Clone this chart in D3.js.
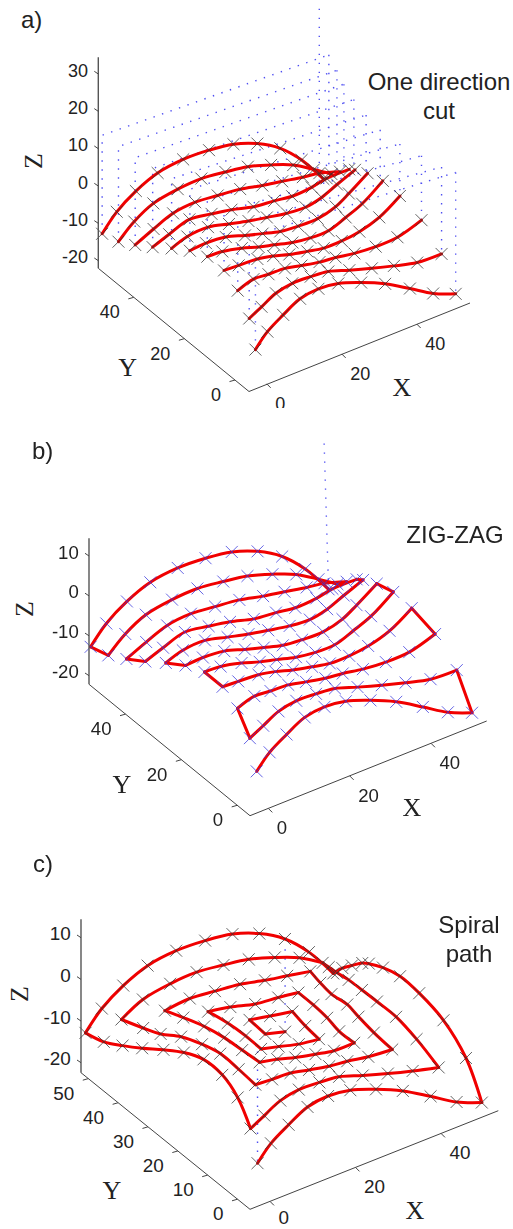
<!DOCTYPE html>
<html>
<head>
<meta charset="utf-8">
<script src="https://cdnjs.cloudflare.com/ajax/libs/d3/7.8.5/d3.min.js"></script>
<style>
  html, body { margin: 0; padding: 0; background: #fff; }
  text { fill: #222; }
</style>
</head>
<body>
<div id="chart"></div>
<script>
// tool path points: one row per pass, front pass first
const yValues = [0, 5.6, 11.2, 16.8, 22.4, 28, 33.6, 39.2, 44.8, 50.4, 56];

const xValues = [
  [1.0, 4.2, 8.4, 12.9, 17.8, 23.1, 29.2, 35.6, 42.2, 48.4, 54.4],
  [3.2, 6.5, 10.3, 14.7, 19.6, 24.3, 29.9, 35.9, 41.8, 48.0, 54.5],
  [4.0, 8.2, 12.2, 16.6, 21.0, 25.8, 30.1, 35.1, 40.8, 46.6, 53.0],
  [4.2, 8.1, 13.1, 17.3, 21.6, 26.4, 30.8, 35.6, 40.3, 45.6, 51.1],
  [3.6, 7.6, 12.8, 17.3, 21.5, 26.3, 31.1, 35.9, 40.5, 44.9, 50.4],
  [2.8, 7.1, 12.4, 17.5, 22.2, 26.9, 31.7, 36.9, 41.7, 45.2, 50.2],
  [1.8, 6.0, 11.5, 17.1, 22.3, 27.2, 32.5, 37.5, 41.8, 45.9, 50.7],
  [0.6, 5.0, 10.4, 16.3, 21.6, 27.5, 33.0, 37.8, 43.0, 47.0, 53.0],
  [-0.2, 4.7, 9.9, 15.8, 21.8, 27.8, 33.7, 39.0, 44.5, 48.9, 54.4],
  [-0.8, 3.4, 8.5, 15.0, 21.3, 27.7, 33.7, 39.9, 45.8, 51.3, 56.0],
  [-1.3, 2.6, 7.7, 13.5, 20.3, 27.2, 33.7, 40.1, 46.2, 51.9, 57.7]
];

const zValues = [
  [-15.8, -12.3, -9.5, -7.0, -6.3, -7.0, -9.2, -12.1, -16.0, -19.8, -22.3],
  [-11.6, -9.8, -7.7, -6.8, -7.0, -7.5, -9.4, -11.3, -13.0, -14.6, -14.9],
  [-7.7, -6.3, -6.6, -6.8, -7.8, -8.8, -9.3, -10.2, -10.7, -10.5, -8.5],
  [-5.6, -5.8, -6.1, -7.0, -8.3, -9.4, -10.3, -10.3, -9.7, -8.0, -4.5],
  [-4.9, -5.1, -6.3, -7.8, -8.9, -10.2, -10.9, -10.9, -9.2, -7.3, -3.4],
  [-6.2, -5.9, -6.4, -8.0, -9.4, -10.7, -11.2, -11.3, -10.0, -7.9, -4.5],
  [-8.4, -6.9, -6.6, -8.0, -9.3, -10.3, -11.3, -11.7, -10.8, -9.0, -7.0],
  [-10.8, -9.1, -7.3, -8.2, -9.2, -10.8, -11.4, -12.1, -11.8, -11.0, -11.0],
  [-13.1, -10.8, -8.7, -8.1, -8.7, -9.4, -10.8, -11.8, -12.9, -13.6, -15.4],
  [-15.2, -11.5, -8.7, -7.5, -7.2, -8.0, -9.0, -11.0, -13.4, -16.8, -19.9],
  [-16.1, -11.8, -8.3, -5.8, -4.9, -5.2, -6.2, -8.6, -12.3, -17.7, -25.1]
];

// rapid moves of the one direction cut: where each pass is entered from above
const retractX = [54.4, 54.5, 53.0, 51.1, 49.7, 49.8, 50.4, 51.6, 53.6, 55.3, 56.6];
const retractZ = [10.1, 8.3, 8.7, 9.4, 10.5, 11.2, 11.9, 12.3, 12.0, 12.2, 20.8];
const clearanceZ = 10.2;
const zigzagEntryZ = 11.9;
const spiralEntryZ = 11.0;
const spiralExitZ = 9.3;

const zTicksA = [-20, -10, 0, 10, 20, 30];
const zTicksB = [-20, -10, 0, 10];
const xTicks = [0, 20, 40];
const yTicksAB = [0, 20, 40];
const yTicksC = [0, 10, 20, 30, 40, 50];

const w = 513;
const h = 1229;

const rows = d3.range(yValues.length);
const cols = d3.range(xValues[0].length);

const svg = d3.select('#chart')
  .append('svg')
  .attr('width', w)
  .attr('height', h)
  .style('display', 'block');

const soft = svg.append('defs').append('filter').attr('id', 'soft');
soft.append('feGaussianBlur').attr('stdDeviation', 0.35);

// a pass along one row, as [row, col]
function onePass(j, reverse) {
  const c = reverse ? cols.slice().reverse() : cols;
  return c.map(i => [j, i]);
}

function zigzagSegments() {
  const out = [];
  rows.forEach(j => {
    const pass = onePass(j, j % 2 == 1);
    out.push(pass);
    if (j < 10) out.push([pass[pass.length - 1], [j + 1, pass[pass.length - 1][1]]]);
  });
  return out;
}

function spiralSegments() {
  const out = [];
  for (let lo = 0; lo < 5; lo++) {
    const hi = 10 - lo;
    out.push(d3.range(lo, hi + 1).map(i => [lo, i]));
    out.push(d3.range(lo, hi + 1).map(j => [j, hi]));
    out.push(d3.range(hi, lo - 1, -1).map(i => [hi, i]));
    out.push(d3.range(hi, lo, -1).map(j => [j, lo]));
    out.push([[lo + 1, lo], [lo + 1, lo + 1]]);
  }
  return out;
}

const panels = [
  {
    name: 'a)', labelPos: [21, 28], mode: 'oneway', markColor: '#333',
    origin: [251.67, 374.33], xVec: [3.75, -1.5], yVec: [-2.583, -2.15], zVec: -3.747,
    corner: [249, 391.5], xEnd: [470, 303], yEnd: [98.3, 268.3], zTop: 57.3,
    xT: [[266.7, 383.8], [416.7, 324]], xDom: [0, 40],
    yT: [[235, 380], [133.8, 297.3]], yDom: [0, 40], yTicks: yTicksAB,
    zT: [260.7, 74], zDom: [-20, 30], zTicks: zTicksA,
    font: 18,
    xPos: [402, 387], yPos: [127.7, 367], zPos: [33.3, 161],
    note: ['One direction', 'cut'], notePos: [439, 90], noteGap: 29
  },
  {
    name: 'b)', labelPos: [32, 459], mode: 'zigzag', markColor: '#3636dc',
    origin: [252.67, 797.67], xVec: [4.033, -1.583], yVec: [-2.8, -2.31], zVec: -3.99,
    corner: [250, 815.7], xEnd: [486.7, 721], yEnd: [89, 684.3], zTop: 538.3,
    xT: [[268.3, 808.4], [431, 743.3]], xDom: [0, 40],
    yT: [[237.2, 805.3], [125.5, 714.1]], yDom: [0, 40], yTicks: yTicksAB,
    zT: [675.7, 556], zDom: [-20, 10], zTicks: zTicksB,
    font: 18.6,
    xPos: [412, 807], yPos: [122, 784], zPos: [24, 609],
    note: ['ZIG-ZAG'], notePos: [455, 543], noteGap: 0
  },
  {
    name: 'c)', labelPos: [33, 872], mode: 'spiral', markColor: '#333',
    origin: [253.33, 1190.67], xVec: [4.2, -1.643], yVec: [-2.9, -2.417], zVec: -4.167,
    corner: [250, 1209.3], xEnd: [498.3, 1110.7], yEnd: [81, 1072.7], zTop: 919.3,
    xT: [[270, 1201.4], [441, 1133.4]], xDom: [0, 40],
    yT: [[237.5, 1199.2], [88.3, 1078.6]], yDom: [0, 50], yTicks: yTicksC,
    zT: [1062.7, 937.7], zDom: [-20, 10], zTicks: zTicksB,
    font: 18.9,
    xPos: [415, 1210], yPos: [112, 1190], zPos: [19.3, 994],
    note: ['Spiral', 'path'], notePos: [469, 933], noteGap: 29
  }
];

panels.forEach(p => {
  const g = svg.append('g');
  const floorZ = -22;

  // the view of each panel is a linear map of X, Y and Z
  const xToPx = d3.scaleLinear().domain([0, 1]).range([0, p.xVec[0]]);
  const xToPy = d3.scaleLinear().domain([0, 1]).range([0, p.xVec[1]]);
  const yToPx = d3.scaleLinear().domain([0, 1]).range([0, p.yVec[0]]);
  const yToPy = d3.scaleLinear().domain([0, 1]).range([0, p.yVec[1]]);
  const zToPy = d3.scaleLinear().domain([floorZ, floorZ + 1]).range([0, p.zVec]);

  const project = (x, y, z) => [
    p.origin[0] + xToPx(x) + yToPx(y),
    p.origin[1] + xToPy(x) + yToPy(y) + zToPy(z)
  ];
  const at = d => project(xValues[d[0]][d[1]], yValues[d[0]], zValues[d[0]][d[1]]);

  const line = d3.line();
  const smooth = d3.line().curve(d3.curveCatmullRom.alpha(0.5));

  const marks = g.append('g').attr('filter', 'url(#soft)');

  // dotted rapid moves
  let rapid = [];
  if (p.mode == 'oneway') {
    for (let j = 10; j >= 0; j--) {
      rapid.push(project(retractX[j], yValues[j], retractZ[j]));
      rapid.push(project(retractX[j], yValues[j], zValues[j][10]));
      rapid.push(null);
      rapid.push(at([j, 0]));
      rapid.push(project(xValues[j][0], yValues[j], clearanceZ));
      if (j > 0) rapid.push(project(retractX[j - 1], yValues[j - 1], retractZ[j - 1]));
      rapid.push(null);
    }
  } else if (p.mode == 'zigzag') {
    rapid = [project(retractX[10], yValues[10], zigzagEntryZ), at([10, 10])];
  } else {
    rapid = [project(xValues[0][0], yValues[0], spiralEntryZ), at([0, 0]), null,
             at([5, 5]), project(xValues[5][5], yValues[5], spiralExitZ)];
  }
  marks.append('path')
    .attr('d', d3.line().defined(d => d)(rapid))
    .attr('fill', 'none')
    .attr('stroke', '#3030f0')
    .attr('stroke-width', 1.4)
    .attr('stroke-dasharray', '1.4 7.6')
    .attr('opacity', 0.85);

  // red cutting path, bent smoothly along a pass and sharply at the turns
  let segments = rows.map(j => onePass(j, false));
  if (p.mode == 'zigzag') segments = zigzagSegments();
  if (p.mode == 'spiral') segments = spiralSegments();
  marks.selectAll('path.cut')
    .data(segments)
    .enter()
    .append('path')
    .attr('class', 'cut')
    .attr('d', d => smooth(d.map(at)))
    .attr('fill', 'none')
    .attr('stroke', '#f00000')
    .attr('stroke-width', 3)
    .attr('stroke-linecap', 'round');

  // crosses on every point
  const cross = d3.symbol().type(d3.symbolX).size(95);
  marks.selectAll('path.pt')
    .data(rows.flatMap(j => cols.map(i => [j, i])))
    .enter()
    .append('path')
    .attr('class', 'pt')
    .attr('transform', d => 'translate(' + at(d) + ')')
    .attr('d', cross())
    .attr('fill', 'none')
    .attr('stroke', p.markColor)
    .attr('stroke-width', 0.9)
    .attr('opacity', 0.85);

  // axes, each with its own scale along its line
  const xAxis = d3.scaleLinear().domain(p.xDom).range(p.xT);
  const yAxis = d3.scaleLinear().domain(p.yDom).range(p.yT);
  const zAxis = d3.scaleLinear().domain(p.zDom).range(p.zT);

  const axes = g.append('g').attr('fill', 'none').attr('stroke', '#444').attr('stroke-width', 1);
  axes.append('path').attr('d', line([p.xEnd, p.corner, p.yEnd]));
  axes.append('path').attr('d', line([p.yEnd, [p.yEnd[0], p.zTop]]))
    .attr('stroke-width', 1.4).attr('stroke', '#555');

  axes.selectAll('path.xt').data(xTicks).enter().append('path')
    .attr('class', 'xt')
    .attr('d', d => { const q = xAxis(d); return line([q, [q[0] + 4, q[1] + 4]]); });
  axes.selectAll('path.yt').data(p.yTicks).enter().append('path')
    .attr('class', 'yt')
    .attr('d', d => { const q = yAxis(d); return line([q, [q[0] - 5.5, q[1] + 1.6]]); });
  axes.selectAll('path.zt').data(p.zTicks).enter().append('path')
    .attr('class', 'zt')
    .attr('d', d => line([[p.yEnd[0], zAxis(d)], [p.yEnd[0] - 4, zAxis(d) - 2.7]]));

  const labels = g.append('g')
    .style('font-family', '"Liberation Sans", Arial, sans-serif')
    .style('font-size', p.font + 'px');

  labels.selectAll('text.xl').data(xTicks).enter().append('text')
    .attr('class', 'xl')
    .attr('x', d => xAxis(d)[0] + 8.5)
    .attr('y', d => Math.min(xAxis(d)[1] + 26, h - 5))
    .text(d => d);
  labels.selectAll('text.yl').data(p.yTicks).enter().append('text')
    .attr('class', 'yl')
    .attr('text-anchor', 'end')
    .attr('x', d => yAxis(d)[0] - 14)
    .attr('y', d => yAxis(d)[1] + 21)
    .text(d => d);
  labels.selectAll('text.zl').data(p.zTicks).enter().append('text')
    .attr('class', 'zl')
    .attr('text-anchor', 'end')
    .attr('x', p.yEnd[0] - 10.2)
    .attr('y', d => zAxis(d) + 2.5)
    .text(d => d);

  // axis letters
  const serif = '"Liberation Serif", "Times New Roman", serif';
  g.append('text').attr('x', p.xPos[0]).attr('y', p.xPos[1] + 8.5)
    .attr('text-anchor', 'middle').style('font-family', serif).style('font-size', '26px').text('X');
  g.append('text').attr('x', p.yPos[0]).attr('y', p.yPos[1] + 8.5)
    .attr('text-anchor', 'middle').style('font-family', serif).style('font-size', '26px').text('Y');
  g.append('text')
    .attr('transform', 'translate(' + (p.zPos[0] + 8.5) + ',' + p.zPos[1] + ') rotate(-90)')
    .attr('text-anchor', 'middle').style('font-family', serif).style('font-size', '26px').text('Z');

  // panel letter and path name
  g.append('text').attr('x', p.labelPos[0]).attr('y', p.labelPos[1])
    .style('font-family', '"Liberation Sans", Arial, sans-serif').style('font-size', '24px').text(p.name);
  g.selectAll('text.note').data(p.note).enter().append('text')
    .attr('class', 'note')
    .attr('x', p.notePos[0])
    .attr('y', (d, i) => p.notePos[1] + i * p.noteGap)
    .attr('text-anchor', 'middle')
    .style('font-family', '"Liberation Sans", Arial, sans-serif')
    .style('font-size', '24px')
    .text(d => d);
});

// the first picture is cut off just under its 0 label
svg.append('rect').attr('x', 200).attr('y', 408).attr('width', 200).attr('height', 6).attr('fill', '#fff');
</script>
</body>
</html>
